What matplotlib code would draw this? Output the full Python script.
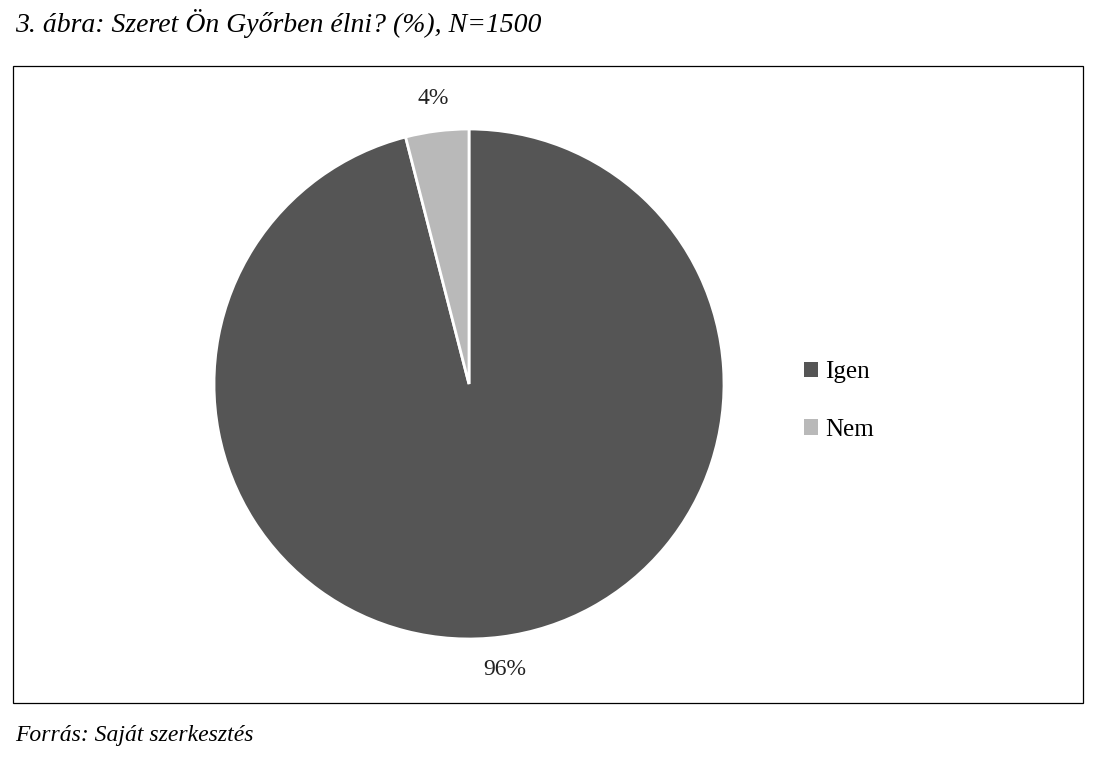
import matplotlib.pyplot as plt
from matplotlib.patches import Rectangle, Patch

labels = ['Igen', 'Nem']
values = [96, 4]
colors = ['#555555', '#b9b9b9']

title = '3. ábra: Szeret Ön Győrben élni? (%), N=1500'
source = 'Forrás: Saját szerkesztés'

plt.rcParams['font.family'] = ['Liberation Serif', 'DejaVu Serif']

fig = plt.figure(figsize=(10.94, 7.64), dpi=100)

# keret
fig.patches.append(Rectangle((13 / 1094, 1 - 703 / 764), 1070 / 1094, 637 / 764,
                             transform=fig.transFigure, fill=False,
                             edgecolor='black', linewidth=0.9))

fig.text(15 / 1094, 1 - 24 / 764, title, fontsize=20, style='italic',
         va='center', ha='left')
fig.text(15 / 1094, 1 - 735 / 764, source, fontsize=17, style='italic',
         va='center', ha='left')

ax = fig.add_axes([214 / 1094, 125 / 764, 510 / 1094, 510 / 764])
wedges, texts, autotexts = ax.pie(values, colors=colors, startangle=90, counterclock=False,
                                  autopct='%d%%', pctdistance=1.13,
                                  wedgeprops=dict(edgecolor='white', linewidth=2),
                                  textprops=dict(fontsize=17, color='#222222'))
ax.set_xlim(-1, 1)
ax.set_ylim(-1, 1)

handles = [Patch(facecolor=c, label=l) for c, l in zip(colors, labels)]
fig.legend(handles=handles, loc='center left', bbox_to_anchor=(781 / 1094, 1 - 401 / 764),
           frameon=False, fontsize=18, labelspacing=1.42, handlelength=0.56,
           handleheight=0.56, handletextpad=0.3)

fig.savefig('out.png', dpi=100)
